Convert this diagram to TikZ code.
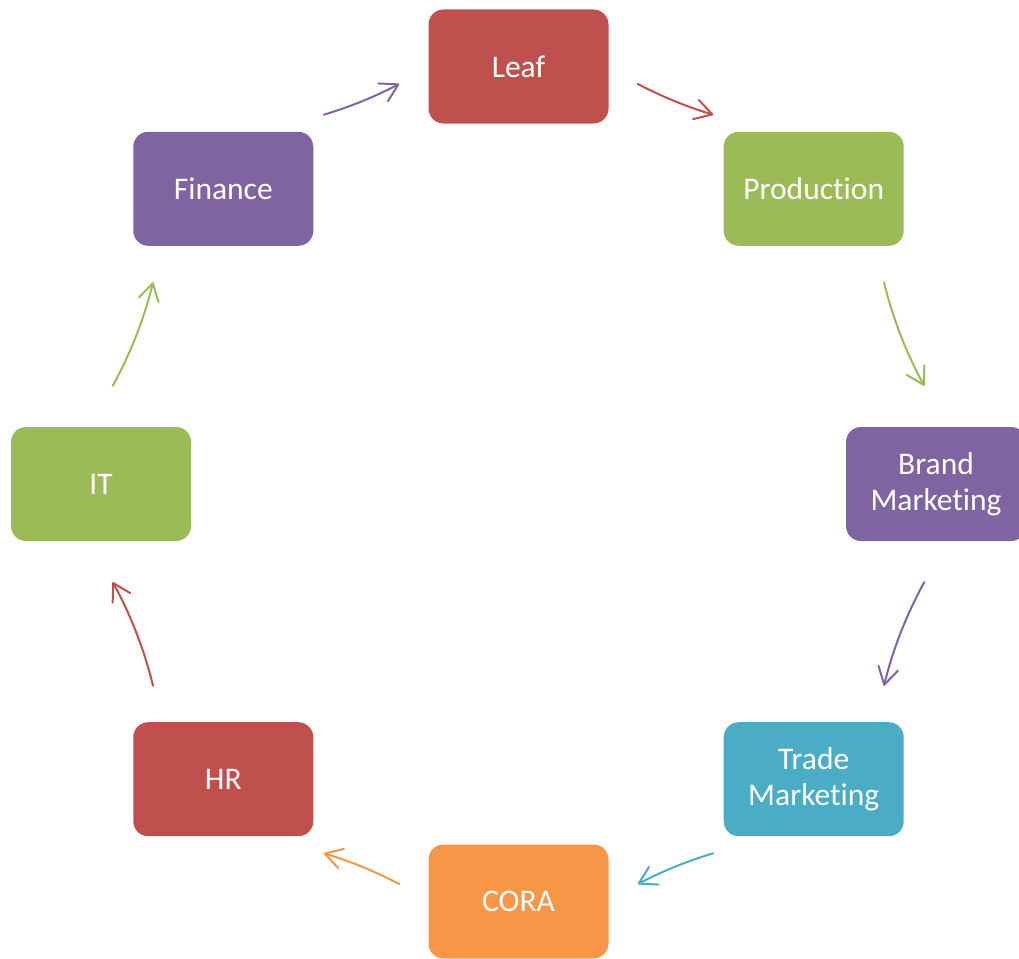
\documentclass[tikz,border=0pt]{standalone}
\usepackage{fontspec}
\setmainfont[Ligatures=NoCommon]{Carlito}
\usetikzlibrary{calc,arrows.meta}
\definecolor{cred}{HTML}{C0504D}
\definecolor{cgreen}{HTML}{9BBB59}
\definecolor{cpurple}{HTML}{8064A2}
\definecolor{cblue}{HTML}{4BACC6}
\definecolor{corange}{HTML}{F79646}
\tikzset{
  box/.style={rounded corners=15pt, minimum width=180pt, minimum height=114pt,
    inner sep=0pt, text=white, align=center,
    font=\fontsize{31.5}{36}\selectfont},
  arr/.style={line width=2pt, line cap=round, line join=round,
    -{Straight Barb[length=17pt,width=20pt,line cap=round,line join=round]}},
  arcA/.style={arr, bend right=5.6, looseness=0.85},
  arcB/.style={arr, bend right=7.65, looseness=0.85}
}
\begin{document}
\begin{tikzpicture}[x=1pt,y=1pt]
\useasboundingbox (0,0) rectangle (1019,-958);
\clip (0,0) rectangle (1019,-958);
\coordinate (C) at (518.5,-484);
\def\R{417.5}
% boxes
\node[box, fill=cred]    (leaf)    at ($(C)+(90:\R)$)   {Leaf};
\node[box, fill=cgreen]  (prod)    at ($(C)+(45:\R)$)   {Production};
\node[box, fill=cpurple] (brand)   at ($(C)+(0:\R)$)    {Brand\\Marketing};
\node[box, fill=cblue]   (trade)   at ($(C)+(-45:\R)$)  {Trade\\Marketing};
\node[box, fill=corange] (cora)    at ($(C)+(-90:\R)$)  {CORA};
\node[box, fill=cred]    (hr)      at ($(C)+(-135:\R)$) {HR};
\node[box, fill=cgreen]  (it)      at ($(C)+(180:\R)$)  {IT};
\node[box, fill=cpurple] (finance) at ($(C)+(135:\R)$)  {Finance};
% arrow end points on the circle
\coordinate (s1) at ($(C)+(73.4:\R)$);   \coordinate (e1) at ($(C)+(62.2:\R)$);
\coordinate (s2) at ($(C)+(28.9:\R)$);   \coordinate (e2) at ($(C)+(13.6:\R)$);
\coordinate (s3) at ($(C)+(-13.6:\R)$);  \coordinate (e3) at ($(C)+(-28.9:\R)$);
\coordinate (s4) at ($(C)+(-62.2:\R)$);  \coordinate (e4) at ($(C)+(-73.4:\R)$);
\coordinate (s5) at ($(C)+(-106.6:\R)$); \coordinate (e5) at ($(C)+(-117.8:\R)$);
\coordinate (s6) at ($(C)+(-151.1:\R)$); \coordinate (e6) at ($(C)+(-166.4:\R)$);
\coordinate (s7) at ($(C)+(166.4:\R)$);  \coordinate (e7) at ($(C)+(151.1:\R)$);
\coordinate (s8) at ($(C)+(117.8:\R)$);  \coordinate (e8) at ($(C)+(106.6:\R)$);
% arrows
\draw[arcA, cred]    (s1) to (e1);
\draw[arcB, cgreen]  (s2) to (e2);
\draw[arcB, cpurple] (s3) to (e3);
\draw[arcA, cblue]   (s4) to (e4);
\draw[arcA, corange] (s5) to (e5);
\draw[arcB, cred]    (s6) to (e6);
\draw[arcB, cgreen]  (s7) to (e7);
\draw[arcA, cpurple] (s8) to (e8);
\end{tikzpicture}
\end{document}
